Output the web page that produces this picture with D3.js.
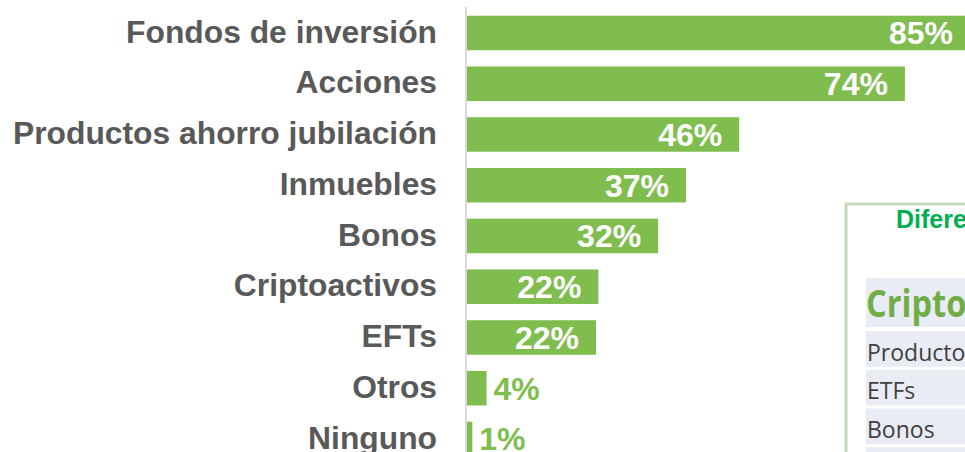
<!DOCTYPE html>
<html>
<head>
<meta charset="utf-8">
<script src="https://cdn.jsdelivr.net/npm/d3@7"></script>
<style>
  html, body { margin: 0; padding: 0; background: #fff; overflow: hidden; }
  svg { display: block; }
</style>
</head>
<body>
<svg id="chart"></svg>
<script>
// ── Data ─────────────────────────────────────────────
const categories = ['Fondos de inversión', 'Acciones', 'Productos ahorro jubilación',
                    'Inmuebles', 'Bonos', 'Criptoactivos', 'EFTs', 'Otros', 'Ninguno'];
const values     = [85, 74, 46, 37, 32.3, 22.2, 21.8, 3.3, 0.9];
const valueLabels = ['85%', '74%', '46%', '37%', '32%', '22%', '22%', '4%', '1%'];

// side panel (cropped in the original)
const panelTitle  = 'Diferencias';
const tableHeader = 'Criptoactivos';
const tableRows   = ['Productos ahorro jubilación', 'ETFs', 'Bonos', ''];

// ── Setup ────────────────────────────────────────────
const W = 965, H = 452;
const GREEN = '#7fbd4f';
const svg = d3.select('#chart').attr('width', W).attr('height', H);

const x = d3.scaleLinear().domain([0, 85]).range([467, 970]);
const y = d3.scaleBand()
  .domain(categories)
  .range([7.6, 7.6 + 50.75 * 9])
  .paddingInner(0.32)
  .paddingOuter(0.16);

// ── Axis line ────────────────────────────────────────
svg.append('line')
  .attr('x1', 466).attr('x2', 466)
  .attr('y1', 7).attr('y2', H)
  .attr('stroke', '#d9d9d9')
  .attr('stroke-width', 2);

// ── Bars ─────────────────────────────────────────────
svg.append('g').selectAll('rect')
  .data(values)
  .join('rect')
    .attr('x', x(0))
    .attr('y', (d, i) => y(categories[i]))
    .attr('width', d => x(d) - x(0))
    .attr('height', y.bandwidth())
    .attr('fill', GREEN);

// ── Category labels ──────────────────────────────────
svg.append('g').selectAll('text')
  .data(categories)
  .join('text')
    .attr('x', 437)
    .attr('y', d => y(d) + y.bandwidth() / 2)
    .attr('dy', '0.3em')
    .attr('text-anchor', 'end')
    .attr('fill', '#595959')
    .attr('font-family', 'Liberation Sans, Arial, sans-serif')
    .attr('font-weight', 'bold')
    .attr('font-size', 31.8)
    .text(d => d);

// ── Value labels ─────────────────────────────────────
svg.append('g').selectAll('text')
  .data(values)
  .join('text')
    .attr('x', d => d > 10 ? x(d) - 17 : x(d) + 7)
    .attr('y', (d, i) => y(categories[i]) + y.bandwidth() / 2)
    .attr('dy', '0.36em')
    .attr('text-anchor', d => d > 10 ? 'end' : 'start')
    .attr('fill', d => d > 10 ? '#ffffff' : GREEN)
    .attr('font-family', 'Liberation Sans, Arial, sans-serif')
    .attr('font-weight', 'bold')
    .attr('font-size', 32)
    .text((d, i) => valueLabels[i]);

// ── Side panel (cut by the frame) ────────────────────
const panel = svg.append('g');

panel.append('rect')
  .attr('x', 846).attr('y', 204)
  .attr('width', 200).attr('height', 300)
  .attr('fill', '#ffffff')
  .attr('stroke', '#c6dcb8')
  .attr('stroke-width', 3);

panel.append('text')
  .attr('x', 896).attr('y', 228)
  .attr('fill', '#00b050')
  .attr('font-family', 'Liberation Sans, Arial, sans-serif')
  .attr('font-weight', 'bold')
  .attr('font-size', 25)
  .text(panelTitle);

panel.append('rect')
  .attr('x', 866).attr('y', 278)
  .attr('width', 200).attr('height', 49)
  .attr('fill', '#e9ebf5');

panel.append('text')
  .attr('transform', 'translate(866,317) scale(0.88,1)')
  .attr('fill', '#70ad47')
  .attr('font-family', 'Open Sans, sans-serif')
  .attr('font-weight', 'bold')
  .attr('font-size', 37)
  .text(tableHeader);

const rowY = d3.scaleBand()
  .domain(d3.range(tableRows.length))
  .range([331, 331 + 38 * tableRows.length])
  .paddingInner(0.08)
  .paddingOuter(0);

const rowG = panel.append('g').selectAll('g')
  .data(tableRows)
  .join('g')
    .attr('transform', (d, i) => `translate(866,${rowY(i)})`);

rowG.append('rect')
  .attr('width', 200)
  .attr('height', rowY.bandwidth())
  .attr('fill', '#e9ebf5');

rowG.append('text')
  .attr('x', 1)
  .attr('y', rowY.bandwidth() - 6)
  .attr('fill', '#404040')
  .attr('font-family', 'Open Sans, sans-serif')
  .attr('font-size', 23)
  .text(d => d);
</script>
</body>
</html>
